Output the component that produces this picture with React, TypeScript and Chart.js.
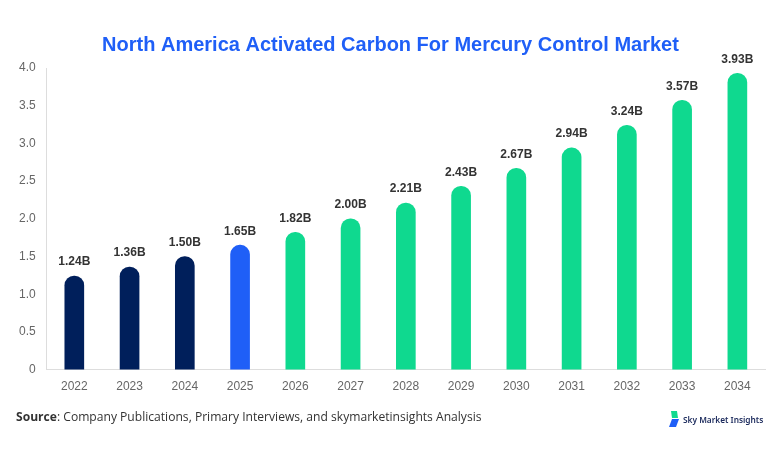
import React, { useEffect, useRef } from "react";
import { Chart, registerables } from "chart.js";

Chart.register(...registerables);

const years = ["2022", "2023", "2024", "2025", "2026", "2027", "2028", "2029", "2030", "2031", "2032", "2033", "2034"];
const values = [1.24, 1.36, 1.5, 1.65, 1.82, 2.0, 2.21, 2.43, 2.67, 2.94, 3.24, 3.57, 3.93];
const valueLabels = ["1.24B", "1.36B", "1.50B", "1.65B", "1.82B", "2.00B", "2.21B", "2.43B", "2.67B", "2.94B", "3.24B", "3.57B", "3.93B"];
const NAVY = "#001f5b";
const BLUE = "#1f5ff7";
const GREEN = "#0fd98f";
const barColors = years.map((y) => (Number(y) <= 2024 ? NAVY : Number(y) === 2025 ? BLUE : GREEN));

const valueLabelPlugin = {
  id: "valueLabels",
  afterDatasetsDraw(chart: any) {
    const ctx = chart.ctx;
    const meta = chart.getDatasetMeta(0);
    ctx.save();
    ctx.font = "bold 12px 'Liberation Sans', Arial, sans-serif";
    ctx.fillStyle = "#333333";
    ctx.textAlign = "center";
    ctx.textBaseline = "bottom";
    meta.data.forEach((bar: any, i: number) => {
      ctx.fillText(valueLabels[i], bar.x, bar.y - 8);
    });
    ctx.restore();
  },
};

export default function App() {
  const ref = useRef<HTMLCanvasElement>(null);
  useEffect(() => {
    if (!ref.current) return;
    const chart = new Chart(ref.current, {
      type: "bar",
      data: {
        labels: years,
        datasets: [
          {
            data: values,
            backgroundColor: barColors,
            barThickness: 19,
            borderRadius: { topLeft: 12, topRight: 12, bottomLeft: 0, bottomRight: 0 },
            borderSkipped: false,
          },
        ],
      },
      options: {
        responsive: false,
        animation: false,
        devicePixelRatio: 1,
        layout: { padding: { left: 16, right: 17, top: 20, bottom: 58 } },
        plugins: {
          legend: { display: false },
          tooltip: { enabled: false },
          title: {
            display: true,
            text: "North America Activated Carbon For Mercury Control Market",
            color: "#1f5ff7",
            font: { family: "'Liberation Sans', Arial, sans-serif", size: 20, weight: "bold" },
            padding: { top: 13, bottom: 11 },
          },
        },
        scales: {
          x: {
            grid: { display: false },
            border: { display: true, color: "#dddddd" },
            ticks: { padding: 2, color: "#666666", font: { family: "'Liberation Sans', Arial, sans-serif", size: 12 } },
          },
          y: {
            min: 0,
            max: 4,
            grid: { display: false },
            border: { display: true, color: "#dddddd" },
            ticks: {
              stepSize: 0.5,
              color: "#666666",
              font: { family: "'Liberation Sans', Arial, sans-serif", size: 12 },
              callback: (v: any) => (Number(v) === 0 ? "0" : Number(v).toFixed(1)),
            },
          },
        },
      },
      plugins: [valueLabelPlugin],
    });
    return () => chart.destroy();
  }, []);

  return (
    <div style={{ position: "absolute", left: 0, top: 0, width: 782, height: 454, background: "#fff", overflow: "hidden" }}>
      <canvas ref={ref} width={782} height={454} style={{ position: "absolute", left: 0, top: 0, width: 782, height: 454 }} />
      <div
        style={{
          position: "absolute",
          left: 16,
          top: 408,
          fontFamily: "'Open Sans', 'Noto Sans', sans-serif",
          fontSize: 12.1,
          color: "#333",
          whiteSpace: "nowrap",
          lineHeight: "18px",
        }}
      >
        <b>Source</b>: Company Publications, Primary Interviews, and skymarketinsights Analysis
      </div>
      <div style={{ position: "absolute", left: 668, top: 411, display: "flex", alignItems: "center", whiteSpace: "nowrap" }}>
        <svg width="12" height="16" viewBox="0 0 12 16" style={{ marginRight: 3 }}>
          <polygon points="3,0 9,0 10,7 4,7" fill="#12d98f" />
          <polygon points="4,8 11,8 8,16 1,16" fill="#1f5ff7" />
        </svg>
        <span style={{ fontFamily: "'Noto Sans', sans-serif", fontSize: 8.3, fontWeight: 600, color: "#1b2a5c" }}>Sky Market Insights</span>
      </div>
    </div>
  );
}
